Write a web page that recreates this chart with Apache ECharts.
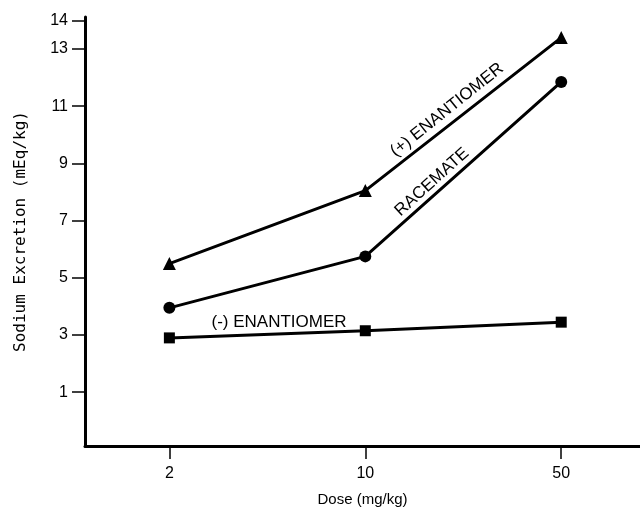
<!DOCTYPE html>
<html>
<head>
<meta charset="utf-8">
<script src="https://cdn.jsdelivr.net/npm/echarts@6/dist/echarts.min.js"></script>
<style>html,body{margin:0;padding:0;background:#fff}#c{width:640px;height:507px}</style>
</head>
<body>
<div id="c"></div>
<script>
var doses = [2, 10, 50];
var plusEnantiomer = [5.5, 8.05, 13.4];
var racemate = [3.95, 5.75, 11.85];
var minusEnantiomer = [2.9, 3.15, 3.45];
var yTicks = [1, 3, 5, 7, 9, 11, 13, 14];
var xTicks = [2, 10, 50];

function pairs(vals) { return doses.map(function (d, i) { return [d, vals[i]]; }); }

var chart = echarts.init(document.getElementById('c'));
var lineStyle = { color: '#000', width: 3 };
chart.setOption({
  animation: false,
  grid: { left: 85, right: 0, top: 17, bottom: 61, containLabel: false, outerBoundsMode: 'none' },
  xAxis: {
    type: 'log', logBase: 10, min: 1, max: 95.5,
    name: 'Dose (mg/kg)', nameLocation: 'middle', nameGap: 46,
    nameTextStyle: { fontFamily: 'Liberation Sans', fontSize: 15, color: '#000' },
    axisLine: { onZero: false, lineStyle: { color: '#000', width: 3 } },
    axisTick: { show: true, length: 13, lineStyle: { color: '#000', width: 1.5 }, customValues: xTicks },
    axisLabel: { customValues: xTicks, color: '#000', fontFamily: 'Liberation Sans', fontSize: 16, margin: 20 },
    splitLine: { show: false }, minorTick: { show: false }
  },
  yAxis: {
    type: 'value', min: -0.88, max: 14.12,
    name: 'Sodium Excretion (mEq/kg)', nameLocation: 'middle', nameGap: 56, nameRotate: 90,
    nameTextStyle: { fontFamily: 'DejaVu Sans Mono', fontSize: 16, color: '#000' },
    axisLine: { show: true, onZero: false, lineStyle: { color: '#000', width: 3 } },
    axisTick: { show: true, length: 13, lineStyle: { color: '#000', width: 1.5 }, customValues: yTicks },
    axisLabel: { customValues: yTicks, color: '#000', fontFamily: 'Liberation Sans', fontSize: 16, margin: 17 },
    splitLine: { show: false }
  },
  series: [
    { type: 'line', data: pairs(plusEnantiomer), symbol: 'triangle', symbolSize: 13,
      lineStyle: lineStyle, itemStyle: { color: '#000' } },
    { type: 'line', data: pairs(racemate), symbol: 'circle', symbolSize: 12,
      lineStyle: lineStyle, itemStyle: { color: '#000' } },
    { type: 'line', data: pairs(minusEnantiomer), symbol: 'rect', symbolSize: 11,
      lineStyle: lineStyle, itemStyle: { color: '#000' } }
  ],
  graphic: [
    { type: 'text', x: 447, y: 110, rotation: 38.6 * Math.PI / 180,
      style: { text: '(+) ENANTIOMER', fill: '#000', font: '17px "Liberation Sans"', align: 'center', verticalAlign: 'middle' } },
    { type: 'text', x: 432, y: 182, rotation: 42 * Math.PI / 180,
      style: { text: 'RACEMATE', fill: '#000', font: '17px "Liberation Sans"', align: 'center', verticalAlign: 'middle' } },
    { type: 'text', x: 279, y: 322,
      style: { text: '(-) ENANTIOMER', fill: '#000', font: '17px "Liberation Sans"', align: 'center', verticalAlign: 'middle' } }
  ]
});
</script>
</body>
</html>
